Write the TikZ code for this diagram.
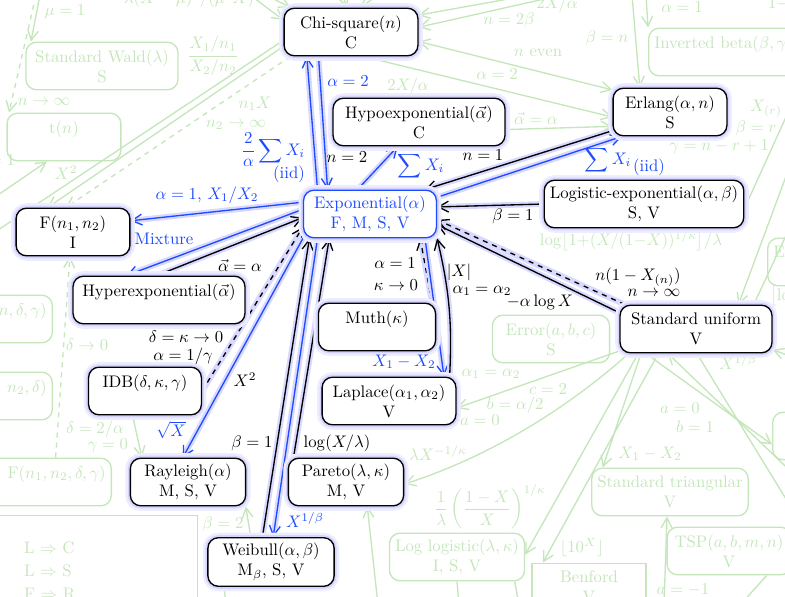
\documentclass[tikz,border=0pt]{standalone}
\usepackage{amsmath,amssymb}
\usepackage{tikz}
\usetikzlibrary{arrows.meta,backgrounds}

\definecolor{expblue}{RGB}{30,75,255}
\definecolor{faded}{RGB}{196,230,186}

\begin{document}
\begin{tikzpicture}[
  x=0.021cm, y=-0.021cm,
  >={Straight Barb[length=6pt,width=6.5pt]},
  distbox/.style={draw,thick,rounded corners=2.2mm,fill=white,
               minimum height=1cm,align=center,
               preaction={draw=blue!7,line width=6pt},
               preaction={draw=blue!17,line width=3pt}},
  fadebox/.style={draw=faded,thick,rounded corners=2.2mm,fill=white,
               text=faded,minimum height=1cm,align=center},
  arr/.style={->,thick,preaction={draw=blue!15,line width=3.5pt,-}},
  barr/.style={arr,draw=expblue},
  farr/.style={->,thick,draw=faded},
  fline/.style={thick,draw=faded},
  lbl/.style={inner sep=1pt},
  blbl/.style={lbl,text=expblue},
  flbl/.style={lbl,text=faded},
]
  \useasboundingbox (0,0) rectangle (785,596);

  % distributions in focus
  \node[distbox,minimum width=2.81cm] (chisq)    at (351,32)  {Chi-square($n$)\\C};
  \node[distbox,minimum width=3.61cm] (hypo)     at (419,122) {Hypoexponential($\vec{\alpha}$)\\C};
  \node[distbox,minimum width=2.39cm] (erlang)   at (670,112) {Erlang($\alpha,n$)\\S};
  \node[distbox,minimum width=4.14cm] (logexp)   at (644,204) {Logistic-exponential($\alpha,\beta$)\\S, V};
  \node[distbox,minimum width=2.79cm,draw=expblue,text=expblue] (expo) at (370,214) {Exponential($\alpha$)\\F, M, S, V};
  \node[distbox,minimum width=2.39cm] (fdist)    at (73,232)  {F($n_1,n_2$)\\I};
  \node[distbox,minimum width=3.61cm] (hyper)    at (159,300) {Hyperexponential($\vec{\alpha}$)\\\mbox{}};
  \node[distbox,minimum width=2.46cm] (muth)     at (377,327) {Muth($\kappa$)\\\mbox{}};
  \node[distbox,minimum width=3.19cm] (unif)     at (696,329) {Standard uniform\\V};
  \node[distbox,minimum width=2.37cm] (idb)      at (145,391) {IDB($\delta,\kappa,\gamma$)\\\mbox{}};
  \node[distbox,minimum width=2.81cm] (laplace)  at (389,401) {Laplace($\alpha_1,\alpha_2$)\\V};
  \node[distbox,minimum width=2.42cm] (rayleigh) at (188,482) {Rayleigh($\alpha$)\\M, S, V};
  \node[distbox,minimum width=2.42cm] (pareto)   at (346,482) {Pareto($\lambda,\kappa$)\\M, V};
  \node[distbox,minimum width=2.65cm] (weibull)  at (271,562) {Weibull($\alpha,\beta$)\\M$_\beta$, S, V};

  \begin{scope}[on background layer]
    % faded rest of the chart
    \node[fadebox,minimum width=3.19cm] (wald)    at (102,66)  {Standard Wald($\lambda$)\\S};
    \node[fadebox,minimum width=2.39cm] (tdist)   at (64,137)  {t($n$)\\\mbox{}};
    \node[fadebox,anchor=west,text width=3.4cm,align=left] (invbeta) at (648,52) {Inverted beta($\beta,\gamma$)\\\mbox{}};
    \node[fadebox,anchor=east,text width=2cm,align=right] (ncbeta) at (53,319) {$(n,\delta,\gamma)$\\\mbox{}};
    \node[fadebox,anchor=east,text width=2cm,align=right] (ncf)    at (53,396) {$n_2,\delta)$\\\mbox{}};
    \node[fadebox,anchor=east,text width=3cm,align=right] (ncfg)   at (112,482) {F($n_1,n_2,\delta,\gamma$)\\\mbox{}};
    \node[fadebox,minimum width=2.46cm] (errdist) at (551,339) {Error($a,b,c$)\\S};
    \node[fadebox,minimum width=2.79cm] (loglog)  at (457,557) {Log logistic($\lambda,\kappa$)\\I, S, V};
    \node[fadebox,minimum width=3.23cm] (stdtri)  at (670,492) {Standard triangular\\V};
    \node[fadebox,minimum width=2.6cm]   (tsp)     at (729,551) {TSP($a,b,m,n$)\\V};
    \node[fadebox,sharp corners,minimum width=2.39cm] (benford) at (589,587) {Benford\\V};
    \node[fadebox,anchor=west,text width=2cm,align=left] (expow) at (767,262) {Ex\\\mbox{}};
    \node[fadebox,anchor=west,minimum width=2cm] (rgtbox) at (772,436) {};
    \node[draw=faded,thick,anchor=north east,minimum width=5cm,minimum height=3cm] (legend) at (198,515) {};
    \node[flbl,anchor=north west,align=left] (legtxt) at (22,540) {L $\Rightarrow$ C\\[1.5pt]L $\Rightarrow$ S\\[1.5pt]F $\Rightarrow$ R};

    \coordinate (offA) at (250,-5);
    \coordinate (offB) at (266,-5);
    \coordinate (offC) at (342,-8);
    \coordinate (offD) at (383,-8);
    \coordinate (offE) at (525,-4);
    \coordinate (offF) at (562,-5);
    \coordinate (offG) at (632,-5);
    \coordinate (offH) at (646,-5);
    \coordinate (offI) at (805,75);
    \coordinate (offJ) at (805,125);
    \coordinate (offK) at (805,195);
    \coordinate (offL) at (805,530);
    \coordinate (offM) at (805,485);
    \coordinate (offN) at (805,362);
    \coordinate (offO) at (378,605);
    \coordinate (offP) at (226,605);
    \coordinate (offQ) at (-5,232);
    \coordinate (offR) at (-5,197);
    \coordinate (offS) at (36,-5);
    \coordinate (offT) at (40,-5);
    \coordinate (offU) at (664,605);
    \coordinate (offV) at (740,605);
    \coordinate (offW) at (459,605);
    \coordinate (offX) at (519,605);

    \draw[farr] (offA) -- (chisq.170);
    \draw[farr] (offB) -- (chisq.158);
    \draw[farr] (offC) -- (chisq.100);
    \draw[farr] (offD) -- (chisq.70);
    \draw[farr] (offE) -- (chisq.14);
    \draw[farr] (offF) -- (chisq.4);
    \draw[farr,<->] (chisq.352) -- (erlang.159);
    \draw[farr] (chisq.297) -- (erlang.185);
    \draw[farr] (hypo.355) -- (erlang.194);
    \draw[farr] (offG) -- (erlang.141);
    \draw[farr] (offH) -- (invbeta.north west);
    \draw[farr] (offI) -- (logexp.345);
    \draw[farr] (offJ) -- (unif.30);
    \draw[fline] (unif.23) -- (offK);
    \draw[farr] (offM) -- (unif.221);
    \draw[farr] (offN) -- (unif.345);
    \draw[farr] (unif.204) -- (stdtri.160);
    \draw[farr] (unif.213) -- (benford.152);
    \draw[farr] (unif.203) -- (loglog.2);
    \draw[farr] (unif.206) -- (rgtbox.190);
    \draw[fline] (unif.272) -- (offL);
    \draw[farr] (unif.196) -- (laplace.354);
    \draw[farr] (unif.200) .. controls (560,415) and (480,460) .. (pareto.358);
    \draw[farr] (offO) -- (pareto.311);
    \draw[farr] (weibull.129) -- (rayleigh.337);
    \draw[fline] (weibull.208) -- (offP);
    \draw[farr] (idb.243) -- (rayleigh.152);
    \draw[farr,dashed] (ncfg.49) -- (fdist.263);
    \draw[farr] (chisq.192) -- (fdist.136);
    \draw[farr,dashed] (chisq.202) -- (fdist.106);
    \draw[fline] (chisq.187) -- (offQ);
    \draw[farr] (offR) -- (tdist.235);
    \draw[farr,dashed] (offS) -- (tdist.156);
    \draw[farr] (offT) -- (wald.161);
    \draw[farr] (offU) -- (stdtri.263);
    \draw[fline] (tsp.327) -- (offV);
    \draw[fline] (loglog.270) -- (offW);
    \draw[fline] (loglog.337) -- (offX);

    \node[flbl] (lmu)    at (65,12)   {$\mu=1$};
    \node[flbl] (lwaldt) at (189,-1)  {$\lambda(X-\mu)^2/(\mu^2X)$};
    \node[flbl] (lfrac)  at (213,56)  {$\dfrac{X_1/n_1}{X_2/n_2}$};
    \node[flbl] (lninf)  at (44,102)  {$n\to\infty$};
    \node[flbl] (lnx)    at (255,104) {$n_1X$};
    \node[flbl] (lntwo)  at (236,125) {$n_2\to\infty$};
    \node[flbl] (lxsq)   at (66,173)  {$X^2$};
    \node[flbl,anchor=east] (lnu) at (17,160) {$=1$};
    \node[flbl] (ltwox)  at (557,4)   {$2X/\alpha$};
    \node[flbl] (lntb)   at (509,20)  {$n=2\beta$};
    \node[flbl] (laone)  at (682,7)   {$\alpha=1$};
    \node[flbl,anchor=west] (lonem) at (766,4) {$1-$};
    \node[flbl] (lbn)    at (607,38)  {$\beta=n$};
    \node[flbl] (lneven) at (538,53)  {$n$ even};
    \node[flbl] (latwo)  at (497,74)  {$\alpha=2$};
    \node[flbl] (ltwoxb) at (408,86)  {$2X/\alpha$};
    \node[flbl] (lveca)  at (536,119) {$\vec{\alpha}=\alpha$};
    \node[flbl] (lxr)    at (766,109) {$X_{(r)}$};
    \node[flbl] (lbr)    at (756,128) {$\beta=r$};
    \node[flbl] (lgam)   at (719,147) {$\gamma=n-r+1$};
    \node[flbl] (llog)   at (631,241) {$\log\bigl[1{+}(X/(1{-}X))^{1/\kappa}\bigr]/\lambda$};
    \node[flbl,anchor=west] (llogb) at (768,296) {$\bigl[\log$};
    \node[flbl] (lxb)    at (738,362) {$X^{1/\beta}$};
    \node[flbl] (ldz)    at (87,345)  {$\delta\to0$};
    \node[flbl] (ldt)    at (95,429)  {$\delta=2/\alpha$};
    \node[flbl] (lgz)    at (108,446) {$\gamma=0$};
    \node[flbl] (lbtwo)  at (223,524) {$\beta=2$};
    \node[flbl] (llx)    at (438,453) {$\lambda X^{-1/\kappa}$};
    \node[flbl] (lllog)  at (490,507) {$\dfrac{1}{\lambda}\left(\dfrac{1-X}{X}\right)^{1/\kappa}$};
    \node[flbl] (lten)   at (582,548) {$\lfloor 10^X\rfloor$};
    \node[flbl] (lam)    at (683,590) {$a=-1$};
    \node[flbl] (lazero) at (680,408) {$a=0$};
    \node[flbl] (lbone)  at (695,427) {$b=1$};
    \node[flbl] (ldiff)  at (650,454) {$X_1-X_2$};
    \node[flbl] (laeq)   at (491,374) {$\alpha_1=\alpha_2$};
    \node[flbl] (lctwo)  at (548,389) {$c=2$};
    \node[flbl] (lbhalf) at (515,405) {$b=\alpha/2$};
    \node[flbl] (lazb)   at (480,420) {$a=0$};

    % arrows in and out of the exponential
    \draw[barr] (expo.155) -- (chisq.209);
    \draw[barr] (chisq.217) -- (expo.150);
    \draw[barr] (expo.117) -- (hypo.229);
    \draw[arr]  (erlang.198) -- (expo.24);
    \draw[barr] (expo.14) -- (erlang.207);
    \draw[arr]  (logexp.west) -- (expo.6);
    \draw[arr]  (unif.168) -- (expo.351);
    \draw[arr,dashed] (unif.161) -- (expo.355);
    \draw[arr,dashed] (muth.24) -- (expo.334);
    \draw[barr] (expo.336) -- (laplace.24);
    \draw[arr]  (laplace.22) to[bend right=8] (expo.340);
    \draw[barr] (expo.170) -- (fdist.11);
    \draw[barr] (expo.176) -- (hyper.143);
    \draw[arr]  (hyper.95) -- (expo.183);
    \draw[arr,dashed] (idb.east) -- (expo.191);
    \draw[barr] (expo.200) -- (rayleigh.102);
    \draw[arr]  (weibull.109) -- (expo.202);
    \draw[barr] (expo.205) -- (weibull.85);
    \draw[arr]  (pareto.155) -- (expo.211);
  \end{scope}

  \node[blbl] (lalpha2) at (348,81)  {$\alpha=2$};
  \node[lbl]  (lntwo2)  at (347,157) {$n=2$};
  \node[blbl] (lchisum) at (273,150) {$\displaystyle\frac{2}{\alpha}\sum X_i$};
  \node[blbl] (lchiiid) at (289,174) {(iid)};
  \node[blbl] (lhyposum) at (421,166) {$\displaystyle\sum X_i$};
  \node[lbl]  (lnone)   at (483,155) {$n=1$};
  \node[blbl] (lerlsum) at (608,160) {$\displaystyle\sum X_i$};
  \node[blbl] (lerliid) at (649,167) {(iid)};
  \node[lbl]  (lbetaone) at (513,216) {$\beta=1$};
  \node[lbl]  (labsx)   at (459,272) {$|X|$};
  \node[lbl]  (laleq)   at (482,291) {$\alpha_1=\alpha_2$};
  \node[lbl]  (lmlog)   at (540,302) {$-\alpha\log X$};
  \node[lbl]  (lnmax)   at (638,277) {$n(1-X_{(n)})$};
  \node[lbl]  (lnmaxinf) at (654,293) {$n\to\infty$};
  \node[lbl]  (lmutha)  at (395,263) {$\alpha=1$};
  \node[lbl]  (lmuthk)  at (396,285) {$\kappa\to0$};
  \node[blbl] (ldiffx)  at (404,362) {$X_1-X_2$};
  \node[blbl] (lfrat)   at (207,195) {$\alpha=1$, $X_1/X_2$};
  \node[blbl] (lmix)    at (164,239) {Mixture};
  \node[lbl]  (lvecal)  at (240,266) {$\vec{\alpha}=\alpha$};
  \node[lbl]  (lidba)   at (186,337) {$\delta=\kappa\to0$};
  \node[lbl]  (lidbb)   at (183,356) {$\alpha=1/\gamma$};
  \node[lbl]  (lsq)     at (245,380) {$X^2$};
  \node[blbl] (lsqrt)   at (171,430) {$\sqrt{X}$};
  \node[lbl]  (lbetaw)  at (252,443) {$\beta=1$};
  \node[blbl] (lweipow) at (305,520) {$X^{1/\beta}$};
  \node[lbl]  (llogpar) at (337,443) {$\log(X/\lambda)$};
\end{tikzpicture}
\end{document}
